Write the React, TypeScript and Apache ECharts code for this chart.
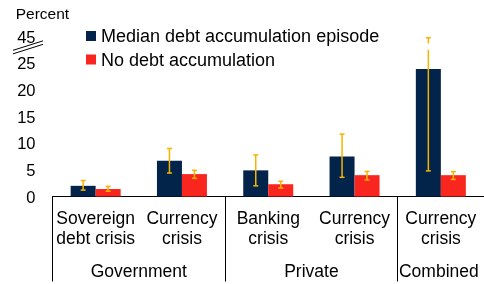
import React, { useEffect, useRef } from "react";
import * as echarts from "echarts";

const categories = ["Sovereign\ndebt crisis", "Currency\ncrisis", "Banking\ncrisis", "Currency\ncrisis", "Currency\ncrisis"];
const groups = [
  { name: "Government", from: 0, to: 1 },
  { name: "Private", from: 2, to: 3 },
  { name: "Combined", from: 4, to: 4 },
];
const seriesNames = ["Median debt accumulation episode", "No debt accumulation"];
const medianValues = [2.0, 6.7, 4.9, 7.5, 23.9];
const noDebtValues = [1.4, 4.2, 2.3, 4.0, 4.0];
const medianLow = [1.2, 4.4, 2.0, 3.6, 4.8];
const medianHigh = [3.0, 9.0, 7.8, 11.7, 44.0];
const noDebtLow = [1.0, 3.4, 1.6, 3.1, 3.2];
const noDebtHigh = [1.9, 4.9, 2.85, 4.7, 4.65];
const yTicks = [0, 5, 10, 15, 20, 25, 45];

// axis break: values above 25 are compressed so that 45 sits where 30 would be
const BREAK_AT = 25;
const BREAK_TOP = 45;
const disp = (v: number) => (v <= BREAK_AT ? v : BREAK_AT + ((v - BREAK_AT) * 5) / (BREAK_TOP - BREAK_AT));
const GAP_LO = 27.5;
const GAP_HI = 28.7;

const NAVY = "#02234a";
const RED = "#f8261f";
const ERR = "#f6b400";
const FONT = "Liberation Sans, Arial, sans-serif";

function errorSeries(low: number[], high: number[], offset: number) {
  return {
    type: "custom",
    silent: true,
    z: 5,
    data: low.map((l, i) => [i, l, high[i]]),
    renderItem: (params: any, api: any) => {
      const idx = api.value(0);
      const lo = api.value(1);
      const hi = api.value(2);
      const x = api.coord([idx, 0])[0] + offset;
      const yLo = api.coord([idx, disp(lo)])[1];
      const yHi = api.coord([idx, disp(hi)])[1];
      const style = { stroke: ERR, lineWidth: 1.5 };
      const cap = 2.5;
      const children: any[] = [];
      if (disp(hi) > GAP_HI) {
        const g1 = api.coord([idx, GAP_LO])[1];
        const g2 = api.coord([idx, GAP_HI])[1];
        children.push({ type: "line", shape: { x1: x, y1: yLo, x2: x, y2: g1 }, style });
        children.push({ type: "line", shape: { x1: x, y1: g2, x2: x, y2: yHi }, style });
      } else {
        children.push({ type: "line", shape: { x1: x, y1: yLo, x2: x, y2: yHi }, style });
      }
      children.push({ type: "line", shape: { x1: x - cap, y1: yLo, x2: x + cap, y2: yLo }, style });
      children.push({ type: "line", shape: { x1: x - cap, y1: yHi, x2: x + cap, y2: yHi }, style });
      return { type: "group", children };
    },
  };
}

export default function App() {
  const ref = useRef<HTMLDivElement>(null);
  useEffect(() => {
    if (!ref.current) return;
    const chart = echarts.init(ref.current, null, { renderer: "svg" });
    const BAR_W = 25;
    chart.setOption({
      animation: false,
      textStyle: { fontFamily: FONT },
      grid: { left: 52.5, top: 36.5, width: 435, height: 160, containLabel: false },
      legend: {
        orient: "vertical",
        left: 86,
        top: 27,
        padding: 0,
        icon: "rect",
        itemWidth: 10,
        itemHeight: 10,
        itemGap: 5.5,
        data: seriesNames,
        textStyle: { fontFamily: FONT, fontSize: 18, color: "#000", lineHeight: 18 },
      },
      xAxis: {
        type: "category",
        data: categories,
        axisLine: { show: true, lineStyle: { color: "#000", width: 1 } },
        axisTick: {
          show: true,
          length: 85,
          interval: (i: number) => groups.some((g) => g.from === i),
          lineStyle: { color: "#000", width: 1 },
        },
        axisLabel: {
          interval: 0,
          margin: 11,
          color: "#000",
          fontFamily: FONT,
          fontSize: 17.5,
          lineHeight: 20,
        },
      },
      yAxis: {
        type: "value",
        min: 0,
        max: 30,
        interval: 5,
        axisLine: { show: false },
        axisTick: { show: false },
        splitLine: { show: false },
        axisLabel: {
          margin: 17,
          color: "#000",
          fontFamily: FONT,
          fontSize: 16.5,
          formatter: (v: number) => {
            const i = Math.round(v / 5);
            return String(yTicks[i] ?? v);
          },
        },
      },
      series: [
        {
          name: seriesNames[0],
          type: "bar",
          barWidth: BAR_W,
          barGap: "0%",
          itemStyle: { color: NAVY },
          data: medianValues.map(disp),
        },
        {
          name: seriesNames[1],
          type: "bar",
          barWidth: BAR_W,
          barGap: "0%",
          itemStyle: { color: RED },
          data: noDebtValues.map(disp),
        },
        errorSeries(medianLow, medianHigh, -BAR_W / 2),
        errorSeries(noDebtLow, noDebtHigh, BAR_W / 2),
      ],
    });

    // group labels + axis break marker, positioned through the axes
    const px = (i: number) => chart.convertToPixel({ xAxisIndex: 0 }, i) as number;
    const baseY = chart.convertToPixel({ yAxisIndex: 0 }, 0) as number;
    const topY = chart.convertToPixel({ yAxisIndex: 0 }, 30) as number;
    const y25 = chart.convertToPixel({ yAxisIndex: 0 }, 25) as number;
    const midBreak = (topY + y25) / 2;
    const graphic: any[] = groups.map((g) => ({
      type: "text",
      x: (px(g.from) + px(g.to)) / 2 - (g.to === categories.length - 1 && g.from === g.to ? 2 : 0),
      y: baseY + 74,
      style: {
        text: g.name,
        fill: "#000",
        font: `17.5px ${FONT}`,
        align: "center",
        verticalAlign: "middle",
      },
    }));
    graphic.push({
      type: "text",
      x: 15.7,
      y: 13,
      style: { text: "Percent", fill: "#000", font: `15.5px ${FONT}`, align: "left", verticalAlign: "middle" },
    });
    graphic.push({
      type: "line",
      shape: { x1: 13, y1: midBreak + 0.5, x2: 43, y2: midBreak - 9 },
      style: { stroke: "#000", lineWidth: 1 },
    });
    graphic.push({
      type: "line",
      shape: { x1: 13, y1: midBreak + 4, x2: 43, y2: midBreak - 5.5 },
      style: { stroke: "#000", lineWidth: 1 },
    });
    chart.setOption({ graphic });

    return () => chart.dispose();
  }, []);
  return <div ref={ref} style={{ position: "fixed", left: 0, top: 0, width: 484, height: 284 }} />;
}
